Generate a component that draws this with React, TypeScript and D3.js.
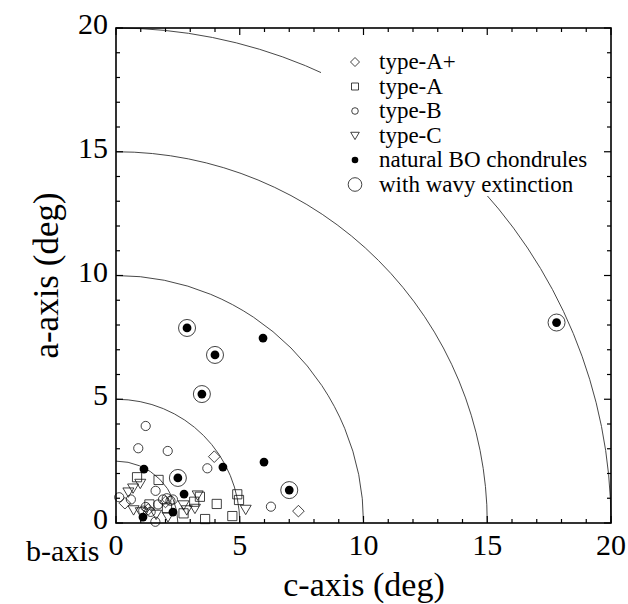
import React from "react";
import * as d3 from "d3";

// ---- data (c-axis deg, a-axis deg) ----
const typeAplus: [number, number][] = [
  [3.97, 2.68], [7.37, 0.48], [0.36, 0.8], [1.3, 0.55], [2.0, 0.85],
];
const typeA: [number, number][] = [
  [4.07, 0.77], [4.9, 1.16], [4.97, 0.93], [4.7, 0.28], [3.6, 0.16],
  [3.39, 1.06], [3.16, 0.86], [2.73, 0.39], [2.06, 0.59], [1.72, 1.74],
  [0.85, 1.85], [1.35, 0.75],
];
const typeB: [number, number][] = [
  [1.2, 3.92], [0.9, 3.02], [2.09, 2.91], [3.69, 2.21], [6.26, 0.66],
  [0.13, 1.04], [1.6, 1.3], [1.9, 0.95], [2.05, 1.0], [2.2, 0.9],
  [1.2, 0.65], [1.1, 0.5], [1.4, 0.45], [1.59, 0.05], [0.6, 0.95],
  [1.7, 0.75], [2.3, 0.95],
];
const typeC: [number, number][] = [
  [5.24, 0.55], [3.3, 1.13], [3.19, 0.59], [2.86, 0.53], [2.73, 0.73],
  [0.98, 1.6], [0.69, 1.41], [0.5, 1.25], [0.71, 0.53], [1.62, 0.35],
  [1.0, 0.45], [2.1, 0.25],
];
const naturalBO: [number, number][] = [
  [2.87, 7.88], [4.0, 6.79], [3.47, 5.21], [17.8, 8.1], [7.0, 1.33],
  [2.5, 1.82], [5.94, 7.47], [5.98, 2.46], [4.32, 2.26], [1.13, 2.18],
  [2.75, 1.17], [2.3, 0.44], [1.09, 0.24],
];
const wavy: [number, number][] = [
  [2.87, 7.88], [4.0, 6.79], [3.47, 5.21], [17.8, 8.1], [7.0, 1.33], [2.5, 1.82],
];
const arcRadii = [2.5, 5, 10, 15, 20];
const majorTicks = [0, 5, 10, 15, 20];
const minorTicks = d3.range(0, 21, 1);
const legendLabels = [
  "type-A+", "type-A", "type-B", "type-C", "natural BO chondrules", "with wavy extinction",
];

const FONT = '"Liberation Serif"';
const txt = { fontFamily: FONT };

const diamondPath = (cx: number, cy: number, s: number) =>
  `M${cx},${cy - s}L${cx + s},${cy}L${cx},${cy + s}L${cx - s},${cy}Z`;
const squarePath = (cx: number, cy: number, s: number) =>
  `M${cx - s},${cy - s}H${cx + s}V${cy + s}H${cx - s}Z`;
const triPath = (cx: number, cy: number, s: number) =>
  `M${cx - s},${cy - s * 0.75}L${cx + s},${cy - s * 0.75}L${cx},${cy + s * 0.95}Z`;

export default function App() {
  const x = d3.scaleLinear().domain([0, 20]).range([116, 611]);
  const y = d3.scaleLinear().domain([0, 20]).range([523, 28]);
  const [x0, x1] = x.range();
  const [y0, y1] = y.range();
  const stroke = "#111";

  const legendX = 355;
  const legendTextX = 379;
  const legendY0 = 62;
  const legendDy = 24.5;

  return (
    <svg
      width={628}
      height={604}
      style={{ position: "absolute", left: 0, top: 0, background: "#fff" }}
    >
      <rect x={0} y={0} width={628} height={604} fill="#fff" />
      {/* arcs */}
      {arcRadii.map((r) => {
        const rx = x(r) - x(0);
        const ry = y(0) - y(r);
        return (
          <path
            key={r}
            d={`M${x(0)},${y(r)}A${rx},${ry} 0 0 1 ${x(r)},${y(0)}`}
            fill="none"
            stroke="#333"
            strokeWidth={0.9}
          />
        );
      })}
      {/* legend background */}
      <rect x={321} y={40} width={279} height={156} fill="#fff" />

      {/* points */}
      {typeB.map((d, i) => (
        <circle key={"b" + i} cx={x(d[0])} cy={y(d[1])} r={4.6} fill="none" stroke={stroke} strokeWidth={0.8} />
      ))}
      {typeA.map((d, i) => (
        <path key={"a" + i} d={squarePath(x(d[0]), y(d[1]), 4.6)} fill="none" stroke={stroke} strokeWidth={0.8} />
      ))}
      {typeC.map((d, i) => (
        <path key={"c" + i} d={triPath(x(d[0]), y(d[1]), 5.5)} fill="none" stroke={stroke} strokeWidth={0.8} />
      ))}
      {typeAplus.map((d, i) => (
        <path key={"ap" + i} d={diamondPath(x(d[0]), y(d[1]), 5.8)} fill="none" stroke={stroke} strokeWidth={0.8} />
      ))}
      {wavy.map((d, i) => (
        <circle key={"w" + i} cx={x(d[0])} cy={y(d[1])} r={8.5} fill="none" stroke={stroke} strokeWidth={0.8} />
      ))}
      {naturalBO.map((d, i) => (
        <circle key={"n" + i} cx={x(d[0])} cy={y(d[1])} r={4.4} fill="#000" />
      ))}

      {/* ticks */}
      {minorTicks.map((t) => {
        const len = majorTicks.includes(t) ? 7 : 4;
        return (
          <g key={"t" + t} stroke="#000" strokeWidth={1.2}>
            <line x1={x(t)} x2={x(t)} y1={y0} y2={y0 - len} />
            <line x1={x(t)} x2={x(t)} y1={y1} y2={y1 + len} />
            <line x1={x0} x2={x0 + len} y1={y(t)} y2={y(t)} />
            <line x1={x1} x2={x1 - len} y1={y(t)} y2={y(t)} />
          </g>
        );
      })}
      {/* frame */}
      <rect x={x0} y={y1} width={x1 - x0} height={y0 - y1} fill="none" stroke="#000" strokeWidth={1.6} />

      {/* tick labels */}
      {majorTicks.map((t) => (
        <text key={"xl" + t} x={x(t)} y={555} fontSize={30} textAnchor="middle" fill="#000" style={txt}>
          {t}
        </text>
      ))}
      {majorTicks.map((t) => (
        <text key={"yl" + t} x={108} y={y(t) + 6} fontSize={30} textAnchor="end" fill="#000" style={txt}>
          {t}
        </text>
      ))}

      {/* axis titles */}
      <text x={26} y={561} fontSize={30} fill="#000" style={txt}>b-axis</text>
      <text x={364} y={596} fontSize={34} textAnchor="middle" fill="#000" style={txt}>c-axis (deg)</text>
      <text
        transform={`translate(58,${(y0 + y1) / 2}) rotate(-90)`}
        fontSize={35}
        textAnchor="middle"
        fill="#000"
        style={txt}
      >
        a-axis (deg)
      </text>

      {/* legend */}
      {legendLabels.map((lab, i) => {
        const cy = legendY0 + i * legendDy;
        let sym: React.ReactNode = null;
        if (i === 0) sym = <path d={diamondPath(legendX, cy, 4.5)} fill="none" stroke={stroke} strokeWidth={0.8} />;
        if (i === 1) sym = <path d={squarePath(legendX, cy, 3.5)} fill="none" stroke={stroke} strokeWidth={0.8} />;
        if (i === 2) sym = <circle cx={legendX} cy={cy} r={3.3} fill="none" stroke={stroke} strokeWidth={0.8} />;
        if (i === 3) sym = <path d={triPath(legendX, cy, 4.3)} fill="none" stroke={stroke} strokeWidth={0.8} />;
        if (i === 4) sym = <circle cx={legendX} cy={cy} r={3.3} fill="#000" />;
        if (i === 5) sym = <circle cx={legendX} cy={cy} r={6.8} fill="none" stroke={stroke} strokeWidth={0.8} />;
        return (
          <g key={lab}>
            {sym}
            <text x={legendTextX} y={cy + 7} fontSize={23} fill="#000" style={txt}>
              {lab}
            </text>
          </g>
        );
      })}
    </svg>
  );
}
